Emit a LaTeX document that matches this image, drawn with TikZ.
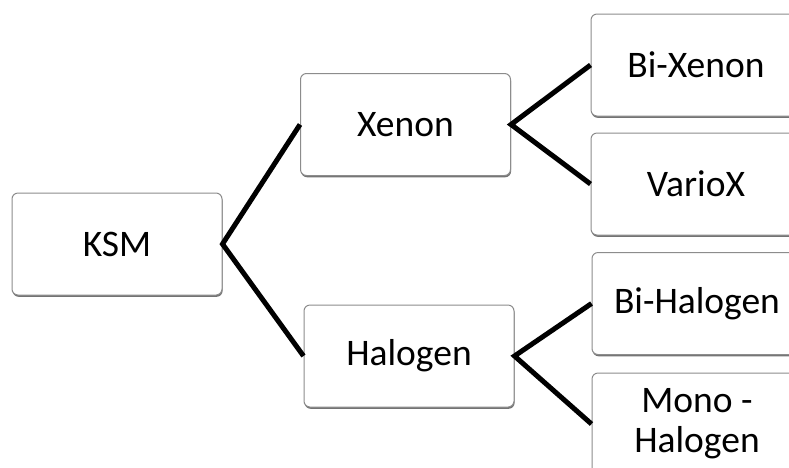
\documentclass[tikz,border=0pt]{standalone}
\usepackage{fontspec}
\setmainfont{Carlito}
\usetikzlibrary{shadows}
\begin{document}
\begin{tikzpicture}[x=1pt,y=-1pt,
  box/.style={draw=black!45, line width=1pt, rounded corners=6pt, fill=white,
    minimum width=#1, minimum height=102pt, inner sep=0pt, align=center,
    font=\fontsize{37.5}{40}\selectfont,
    drop shadow={shadow xshift=0.6pt, shadow yshift=-1.8pt, fill=black!55, opacity=1}},
  box/.default=210pt,
  link/.style={line width=5pt, black}]
\useasboundingbox (0,0) rectangle (789,467);
\fill[white] (0,0) rectangle (789,467);
\node[box] (ksm) at (117,244) {KSM};
\node[box] (xe) at (405.5,124.5) {Xenon};
\node[box] (ha) at (409,356) {Halogen};
\node[box] (bx) at (696,65) {Bi-Xenon};
\node[box] (vx) at (696,184) {VarioX};
\node[box] (bh) at (697,303.5) {Bi-Halogen};
\node[box] (mh) at (697,424) {Mono -\\Halogen};
\draw[link] (xe.west) -- (ksm.east) -- (ha.west);
\draw[link] (bx.west) -- (xe.east) -- (vx.west);
\draw[link] (bh.west) -- (ha.east) -- (mh.west);
\end{tikzpicture}
\end{document}
